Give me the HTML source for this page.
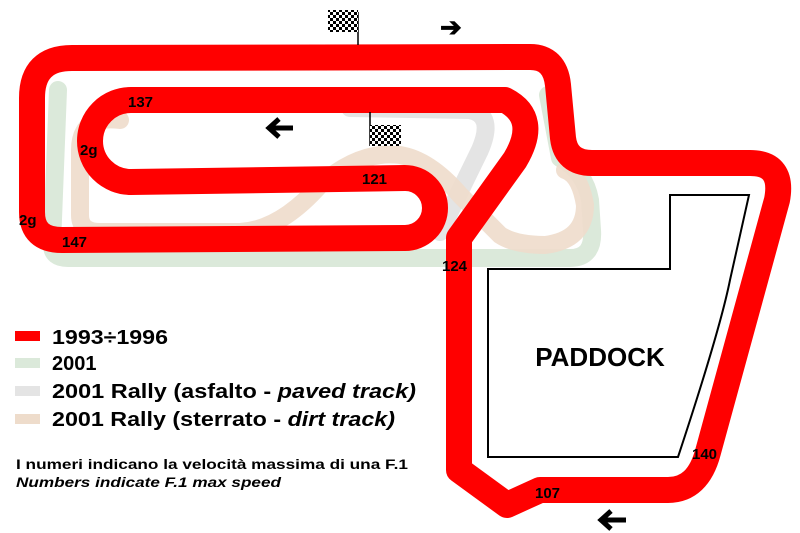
<!DOCTYPE html>
<html><head><style>
body{margin:0;background:#fff;width:800px;height:533px;overflow:hidden}
svg{display:block}
text{font-family:"Liberation Sans",sans-serif;font-weight:bold}
</style></head><body>
<svg width="800" height="533" viewBox="0 0 800 533" xmlns="http://www.w3.org/2000/svg">
<defs>
<pattern id="chk" width="6" height="6" patternUnits="userSpaceOnUse">
<rect width="6" height="6" fill="#fff"/><rect width="3" height="3" fill="#000"/><rect x="3" y="3" width="3" height="3" fill="#000"/>
</pattern>
</defs>
<g fill="none" stroke-linejoin="round" stroke-linecap="round">
<path d="M 58 90 L 52 245 Q 52 258 68 258 L 570 258 Q 594 258 592 230 L 590 200 Q 585 172 560 158 L 548 95" stroke="#dbe9da" stroke-width="18"/>
<path d="M 350 108 L 470 110 Q 495 115 480 150 L 440 232" stroke="#e4e4e4" stroke-width="18"/>
<path d="M 120 120 Q 80 115 80 150 L 80 215 Q 80 232 100 232 L 240 232 Q 280 230 320 185 Q 360 150 400 155 Q 430 160 460 195 L 500 235 Q 515 245 545 245 Q 585 240 585 205 Q 580 175 565 170" stroke="#eedccb" stroke-width="18" opacity="0.9"/>
</g>
<path d="M 490 100 L 131 100 A 41 41 0 0 0 131 182 L 405 178 A 30 30 0 0 1 405 238 L 62 240 Q 32 240 32 212 L 32 98 Q 32 58 72 58 L 530 57 Q 555 57 558 85 L 563 138 Q 566 163 592 163 L 750 163 Q 784 163 777 200 L 708 452 Q 698 490 668 490 L 540 490 L 507 505 L 459 470 L 459 238 L 515 160 Q 540 118 505 100 Z" fill="none" stroke="#ff0000" stroke-width="26" stroke-linejoin="round"/>
<path d="M 488 269 L 488 457 L 678 457 Q 720 330 730 280 L 749 195 L 670 195 L 670 269 Z" fill="none" stroke="#000" stroke-width="2"/>
<text x="600" y="366" font-size="26" text-anchor="middle">PADDOCK</text>
<line x1="358" y1="12" x2="358" y2="45" stroke="#000" stroke-width="1.5"/>
<rect x="328" y="10" width="30" height="22" fill="url(#chk)"/>
<line x1="370" y1="112" x2="370" y2="146" stroke="#000" stroke-width="1.5"/>
<rect x="370" y="125" width="31" height="21" fill="url(#chk)"/>
<text x="440" y="36" font-size="26">➔</text>
<path d="M 293 128 L 270 128 M 279 119 L 269 128 L 279 137" stroke="#000" stroke-width="5" fill="none"/>
<path d="M 626 520 L 602 520 M 611 511 L 601 520 L 611 529" stroke="#000" stroke-width="5" fill="none"/>
<g font-size="15">
<text x="128" y="107">137</text>
<text x="80" y="155">2g</text>
<text x="362" y="184">121</text>
<text x="19" y="225">2g</text>
<text x="62" y="247">147</text>
<text x="442" y="271">124</text>
<text x="692" y="459">140</text>
<text x="535" y="498">107</text>
</g>
<rect x="15" y="331" width="25" height="10" fill="#ff0000"/>
<rect x="15" y="358" width="25" height="10" fill="#dbe9da"/>
<rect x="15" y="386" width="25" height="10" fill="#e4e4e4"/>
<rect x="15" y="414" width="25" height="10" fill="#eedccb"/>
<g font-size="20">
<text x="52" y="344" textLength="116" lengthAdjust="spacingAndGlyphs">1993÷1996</text>
<text x="52" y="370">2001</text>
<text x="52" y="398" textLength="364" lengthAdjust="spacingAndGlyphs">2001 Rally (asfalto - <tspan font-style="italic">paved track)</tspan></text>
<text x="52" y="426" textLength="343" lengthAdjust="spacingAndGlyphs">2001 Rally (sterrato - <tspan font-style="italic">dirt track)</tspan></text>
</g>
<text x="16" y="469" font-size="14" textLength="392" lengthAdjust="spacingAndGlyphs">I numeri indicano la velocità massima di una F.1</text>
<text x="16" y="487" font-size="14" font-style="italic" textLength="265" lengthAdjust="spacingAndGlyphs">Numbers indicate F.1 max speed</text>
</svg>
</body></html>
